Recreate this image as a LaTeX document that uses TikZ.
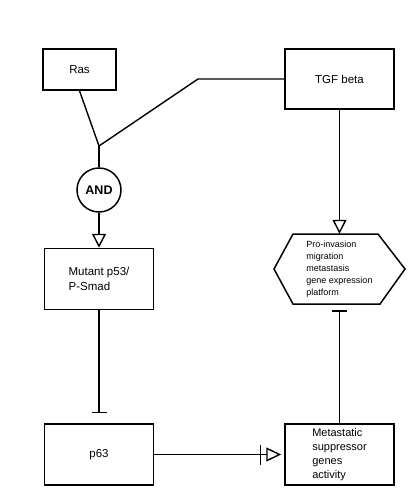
\documentclass[tikz,border=0pt]{standalone}
\usepackage{fontspec}
\setmainfont{Liberation Sans}
\usepackage{tikz}
\usetikzlibrary{arrows.meta, positioning}

\begin{document}
\begin{tikzpicture}[
    x=1pt, y=-1pt,
    box/.style={
        rectangle,
        draw=black,
        line width=1.5pt,
        minimum width=109pt,
        minimum height=61pt,
        inner sep=0pt,
        font=\fontsize{11.5}{15}\selectfont
    },
    gate/.style={
        circle,
        draw=black,
        line width=1.5pt,
        minimum size=44pt,
        inner sep=0pt,
        font=\fontsize{12.5}{14}\selectfont\bfseries
    },
    link/.style={
        line width=1.4pt
    },
    activate/.style={
        link,
        -{Triangle[open, length=14pt, width=14pt]}
    },
    inhibit/.style={
        link,
        -{Bar[width=15pt]}
    }
]

% Canvas
\useasboundingbox (0,0) rectangle (417,498);

% Inputs
\node[box, minimum width=73pt, minimum height=41pt] (ras) at (79.5,69.5) {Ras};
\node[box, minimum height=60pt] (tgf) at (339.5,79) {TGF beta};

% AND gate
\node[gate] (and) at (99,190) {AND};
\coordinate (join) at (99,146);
\coordinate (bend) at (198,79);

% Complex and target
\node[box, align=left] (mutant) at (99,279) {Mutant p53/\\P-Smad};
\node[box] (p63) at (99,454.5) {p63};

% Metastasis side
\node[box, align=left, font=\fontsize{11}{14}\selectfont] (supp) at (339.5,454.5) {Metastatic\\suppressor\\genes\\activity};
\node[minimum width=85pt, minimum height=70pt, inner sep=0pt, align=left,
      font=\fontsize{9}{12}\selectfont] (platform) at (339.5,269) {Pro-invasion\\migration\\metastasis\\gene expression\\platform};
\draw[link, line width=1.5pt] (293,234) -- (378,234) -- (405,269) -- (380,304) -- (293,304) -- (274,269) -- cycle;

% Connectors
\draw[link] (ras.south) -- (join);
\draw[link] (tgf.west) -- (bend) -- (join);
\draw[link] (join) -- (and);
\draw[activate] (and) -- (mutant);
\draw[activate] (tgf) -- (platform);
\draw[inhibit, shorten >=10pt] (mutant) -- (p63);
\draw[link, -{Bar[width=20pt, sep=5pt] Triangle[open, length=15pt, width=14pt]}, shorten >=3pt] (p63) -- (supp);
\draw[inhibit, shorten >=6pt] (supp) -- (platform);

\end{tikzpicture}
\end{document}
